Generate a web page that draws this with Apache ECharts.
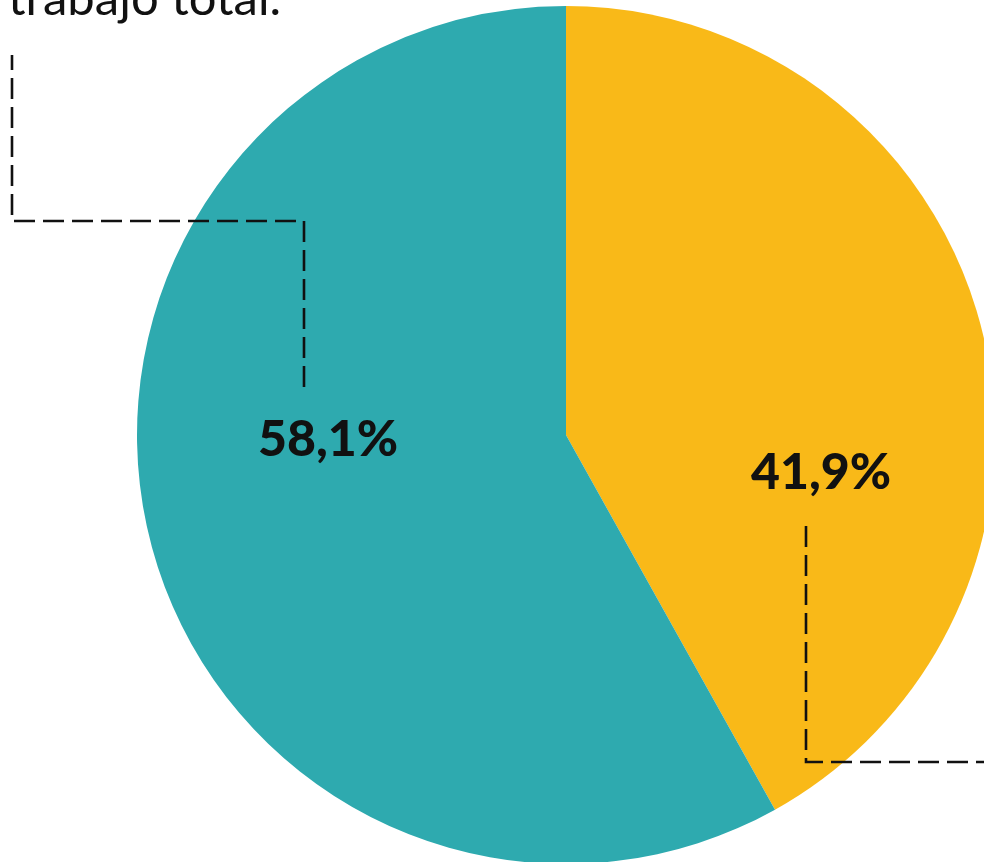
<!DOCTYPE html>
<html>
<head>
<meta charset="utf-8">
<script src="https://cdn.jsdelivr.net/npm/echarts@6/dist/echarts.min.js"></script>
<style>
  html, body { margin: 0; padding: 0; background: #fff; }
  #chart { width: 984px; height: 862px; }
</style>
</head>
<body>
<div id="chart"></div>
<script>
// datos del gráfico
const categories = ['Parte 1', 'Parte 2']
const values = [41.9, 58.1]
const colors = ['#F9B918', '#2EAAAF']
const caption = 'trabajo total.'

// etiquetas en formato español (coma decimal)
const fmt = v => v.toFixed(1).replace('.', ',') + '%'

const chart = echarts.init(document.getElementById('chart'), null, { renderer: 'canvas' })

const lineStyle = { stroke: '#111', lineWidth: 2.6, lineDash: [21, 8], fill: null }

const option = {
  animation: false,
  backgroundColor: '#fff',
  series: [
    {
      type: 'pie',
      z: 1,
      center: [566, 435],
      radius: [0, 429],
      startAngle: 90,
      clockwise: true,
      label: { show: false },
      labelLine: { show: false },
      emphasis: { disabled: true },
      itemStyle: { borderWidth: 0 },
      data: categories.map((name, i) => ({
        name,
        value: values[i],
        itemStyle: { color: colors[i] }
      }))
    }
  ],
  graphic: {
    elements: [
      // texto superior (cortado por el borde)
      {
        type: 'text',
        z: 100,
        x: 8,
        y: 24,
        style: {
          text: caption,
          font: '400 49px Lato',
          fill: '#111',
          verticalAlign: 'bottom'
        }
      },
      // línea guía izquierda
      {
        type: 'polyline',
        z: 100,
        shape: { points: [[304, 387], [304, 221], [12, 221], [12, 55]] },
        style: lineStyle
      },
      // línea guía derecha
      {
        type: 'polyline',
        z: 100,
        shape: { points: [[806, 526], [806, 762], [995, 762]] },
        style: lineStyle
      },
      {
        type: 'text',
        z: 100,
        x: 328,
        y: 440,
        style: {
          text: fmt(values[1]),
          font: '900 50px Lato',
          fill: '#111',
          align: 'center',
          verticalAlign: 'middle'
        }
      },
      {
        type: 'text',
        z: 100,
        x: 821,
        y: 473,
        style: {
          text: fmt(values[0]),
          font: '900 50px Lato',
          fill: '#111',
          align: 'center',
          verticalAlign: 'middle'
        }
      }
    ]
  }
}

chart.setOption(option)
</script>
</body>
</html>
